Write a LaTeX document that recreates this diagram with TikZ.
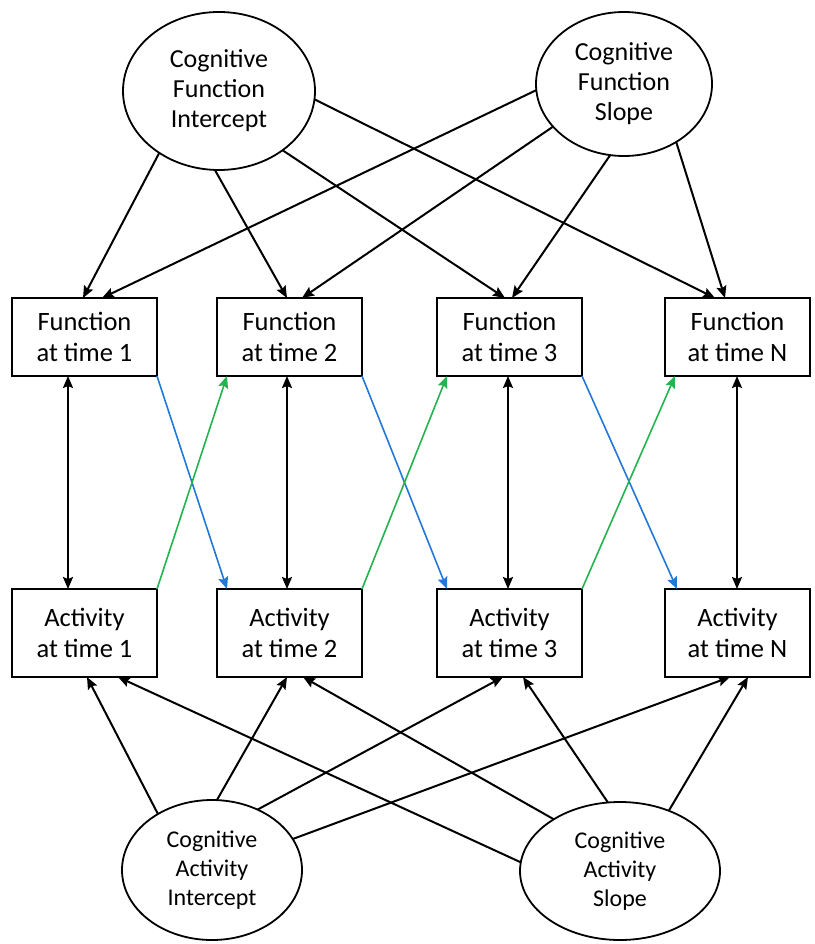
\documentclass[tikz,border=0pt]{standalone}
\usepackage{fontspec}
\setmainfont{Carlito}
\usetikzlibrary{arrows.meta,calc,shapes.geometric}
\definecolor{bluearr}{RGB}{35,120,215}
\definecolor{greenarr}{RGB}{35,180,80}
\begin{document}
\begin{tikzpicture}[x=1pt,y=-1pt,
  lat/.style={ellipse,draw,line width=1.8pt,inner sep=0pt,outer sep=0pt,align=center,font=\fontsize{26}{30}\selectfont},
  latb/.style={lat,font=\fontsize{24}{29}\selectfont},
  obs/.style={rectangle,draw,line width=1.9pt,minimum width=145pt,inner sep=0pt,outer sep=0pt,align=center,font=\fontsize{26.5}{31}\selectfont},
  arr/.style={line width=2pt,-{Stealth[length=12pt,width=10pt,inset=2pt]}},
  darr/.style={line width=2pt,{Stealth[length=12pt,width=10pt,inset=2pt]}-{Stealth[length=12pt,width=10pt,inset=2pt]}},
  barr/.style={arr,line width=1.6pt,bluearr},
  garr/.style={arr,line width=1.6pt,greenarr}]
\useasboundingbox (0,0) rectangle (814,944);
% latent nodes
\node[lat,minimum width=192pt,minimum height=158pt] (cfi) at (219,91) {Cognitive\\Function\\Intercept};
\node[lat,minimum width=176pt,minimum height=144pt] (cfs) at (624,84) {Cognitive\\Function\\Slope};
\node[latb,minimum width=180pt,minimum height=140pt] (cai) at (212,870) {Cognitive\\Activity\\Intercept};
\node[latb,minimum width=200pt,minimum height=138pt] (cas) at (620,871) {Cognitive\\Activity\\Slope};
% observed nodes
\node[obs,minimum height=78pt] (f1) at (84.5,337) {Function\\at time 1};
\node[obs,minimum height=78pt] (f2) at (289.5,337) {Function\\at time 2};
\node[obs,minimum height=78pt] (f3) at (509.5,337) {Function\\at time 3};
\node[obs,minimum height=78pt] (fN) at (737.5,337) {Function\\at time N};
\node[obs,minimum height=88pt] (a1) at (84.5,633) {Activity\\at time 1};
\node[obs,minimum height=88pt] (a2) at (289.5,633) {Activity\\at time 2};
\node[obs,minimum height=88pt] (a3) at (509.5,633) {Activity\\at time 3};
\node[obs,minimum height=88pt] (aN) at (737.5,633) {Activity\\at time N};
% function intercept / slope
\draw[arr] (cfi.226) -- ($(f1.north west)+(71,0)$);
\draw[arr] (cfi.267) -- ($(f2.north west)+(70,0)$);
\draw[arr] (cfi.317) -- ($(f3.north west)+(68,0)$);
\draw[arr] (cfi.355) -- ($(fN.north west)+(50,0)$);
\draw[arr] (cfs.184) -- ($(f1.north west)+(90,0)$);
\draw[arr] (cfs.211) -- ($(f2.north west)+(85,0)$);
\draw[arr] (cfs.259) -- ($(f3.north west)+(75,0)$);
\draw[arr] (cfs.312) -- ($(fN.north west)+(60,0)$);
% activity intercept / slope
\draw[arr] (cai.134) -- ($(a1.south west)+(75,0)$);
\draw[arr] (cai.86) -- ($(a2.south west)+(70,0)$);
\draw[arr] (cai.53) -- ($(a3.south west)+(66,0)$);
\draw[arr] (cai.21) -- ($(aN.south west)+(65,0)$);
\draw[arr] (cas.175) -- ($(a1.south west)+(106,0)$);
\draw[arr] (cas.142) -- ($(a2.south west)+(86,0)$);
\draw[arr] (cas.100) -- ($(a3.south west)+(86,0)$);
\draw[arr] (cas.51.5) -- ($(aN.south west)+(83,0)$);
% correlations
\draw[darr] ($(f1.south west)+(56,0)$) -- ($(a1.north west)+(56,0)$);
\draw[darr] ($(f2.south west)+(70,0)$) -- ($(a2.north west)+(70,0)$);
\draw[darr] ($(f3.south west)+(71,0)$) -- ($(a3.north west)+(71,0)$);
\draw[darr] ($(fN.south west)+(72,0)$) -- ($(aN.north west)+(72,0)$);
% cross-lagged
\draw[barr] (f1.south east) -- ($(a2.north west)+(10,0)$);
\draw[barr] (f2.south east) -- ($(a3.north west)+(10,0)$);
\draw[barr] (f3.south east) -- ($(aN.north west)+(12,0)$);
\draw[garr] (a1.north east) -- ($(f2.south west)+(10,0)$);
\draw[garr] (a2.north east) -- ($(f3.south west)+(10,0)$);
\draw[garr] (a3.north east) -- ($(fN.south west)+(10,0)$);
\end{tikzpicture}
\end{document}
